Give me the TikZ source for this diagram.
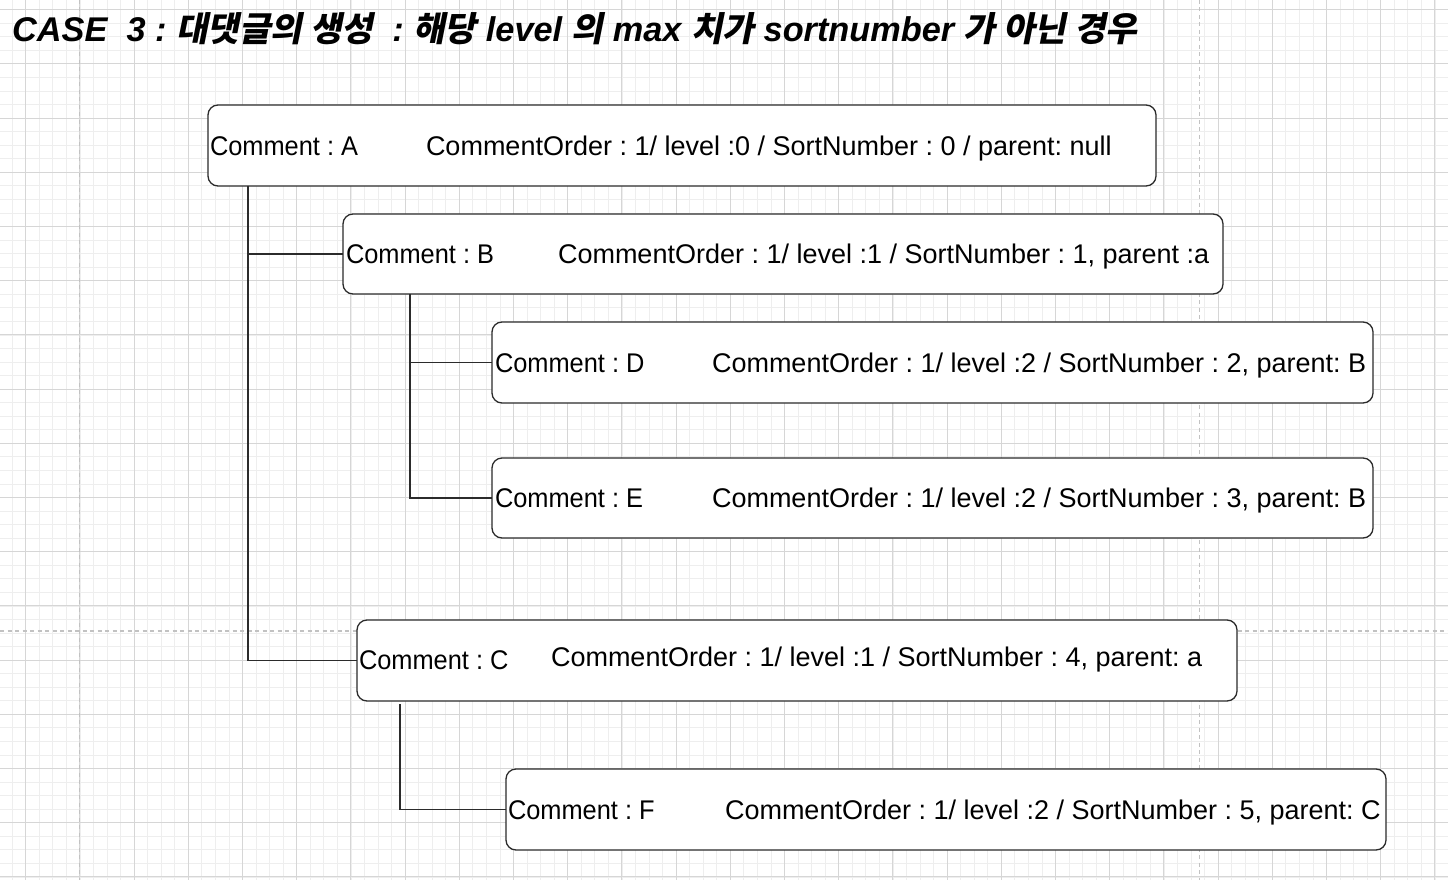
\documentclass[tikz,border=0pt]{standalone}
\usepackage{fontspec}
\setmainfont{Liberation Sans}
\newfontfamily\kr[FakeSlant=0.2]{Noto Sans CJK KR}
\frenchspacing
\definecolor{minorgrid}{HTML}{EEEEEE}
\definecolor{majorgrid}{HTML}{D6D6D6}
\definecolor{pagebreak}{HTML}{C2C2C2}
\definecolor{ink}{HTML}{2B2B2B}
\newcommand{\shortlbl}[1]{\scalebox{0.94}[1]{#1}}
\tikzset{
  minorline/.style={draw=minorgrid, line width=0.8pt},
  majorline/.style={draw=majorgrid, line width=1pt},
  breakline/.style={draw=pagebreak, line width=1.2pt, dash pattern=on 4pt off 3.5pt},
  cbox/.style={draw=ink, fill=white, line width=1.3pt, rounded corners=10pt, inner sep=0pt, outer sep=0pt, anchor=north west},
  txt/.style={inner sep=0pt, outer sep=0pt, anchor=base west, font=\fontsize{27}{32}\selectfont, text=black},
  conn/.style={draw=ink, line width=1.3pt}
}
\begin{document}
\begin{tikzpicture}[x=1pt, y=-1pt]
\useasboundingbox (0,0) rectangle (1448,880);
\fill[white] (0,0) rectangle (1448,880);
% grid
\foreach \i in {0,...,107} {\draw[minorline] ({-1.4+13.55*\i},0) -- ({-1.4+13.55*\i},880);}
\foreach \i in {0,...,66} {\draw[minorline] (0,{-3.85+13.55*\i}) -- (1448,{-3.85+13.55*\i});}
\foreach \i in {0,...,26} {\draw[majorline] ({25.7+54.2*\i},0) -- ({25.7+54.2*\i},880);}
\foreach \i in {0,...,16} {\draw[majorline] (0,{9.7+54.2*\i}) -- (1448,{9.7+54.2*\i});}
\draw[breakline] (79.5,0) -- (79.5,880);
\draw[breakline] (1199.5,0) -- (1199.5,880);
\draw[breakline] (0,631) -- (1448,631);
% title
\node[inner sep=0pt, anchor=base west, font=\fontsize{34.3}{40}\selectfont\bfseries\itshape] (title) at (12,42)
  {CASE\ \ 3 : {\kr 대댓글의 생성}\ \ : {\kr 해당} level {\kr 의} max {\kr 치가} sortnumber {\kr 가 아닌 경우}};
% connector stems
\coordinate (aStem) at (248,186);
\coordinate (bStem) at (410,294);
\coordinate (cStem) at (400,704);
% boxes
\node[cbox, minimum width=948pt, minimum height=81pt] (a) at (208,105) {};
\node[cbox, minimum width=880pt, minimum height=80pt] (b) at (343,214) {};
\node[cbox, minimum width=881pt, minimum height=81pt] (d) at (492,322) {};
\node[cbox, minimum width=881pt, minimum height=80pt] (e) at (492,458) {};
\node[cbox, minimum width=880pt, minimum height=81pt] (c) at (357,620) {};
\node[cbox, minimum width=880pt, minimum height=81pt] (f) at (506,769) {};
\draw[conn] (aStem) |- (b.west);
\draw[conn] (aStem) |- (c.west);
\draw[conn] (bStem) |- (d.west);
\draw[conn] (bStem) |- (e.west);
\draw[conn] (cStem) |- (f.west);
% texts
\node[txt] (a1) at (210,155) {\shortlbl{Comment : A}};
\node[txt] (a2) at (426,155) {CommentOrder : 1/ level :0 / SortNumber : 0 / parent: null};
\node[txt] (b1) at (346,263.5) {\shortlbl{Comment : B}};
\node[txt] (b2) at (558,263.5) {CommentOrder : 1/ level :1 / SortNumber : 1, parent :a};
\node[txt] (d1) at (495,372) {\shortlbl{Comment : D}};
\node[txt] (d2) at (712,372) {CommentOrder : 1/ level :2 / SortNumber : 2, parent: B};
\node[txt] (e1) at (495,507.5) {\shortlbl{Comment : E}};
\node[txt] (e2) at (712,507.5) {CommentOrder : 1/ level :2 / SortNumber : 3, parent: B};
\node[txt] (c1) at (359,669.5) {\shortlbl{Comment : C}};
\node[txt] (c2) at (551,666.5) {CommentOrder : 1/ level :1 / SortNumber : 4, parent: a};
\node[txt] (f1) at (508,819) {\shortlbl{Comment : F}};
\node[txt] (f2) at (725,819) {CommentOrder : 1/ level :2 / SortNumber : 5, parent: C};
\end{tikzpicture}
\end{document}
